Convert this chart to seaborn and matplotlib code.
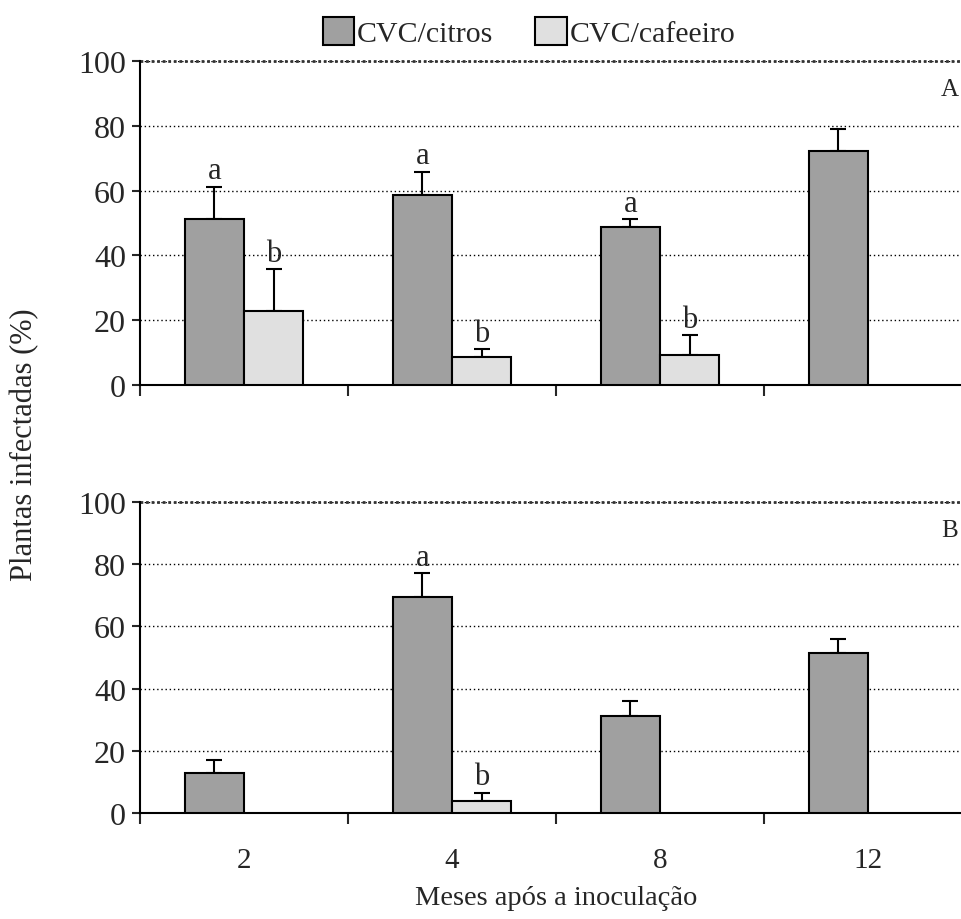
import numpy as np
import pandas as pd
import seaborn as sns
import matplotlib.pyplot as plt
from matplotlib.patches import Patch

# dados
meses = ["2", "4", "8", "12"]
tratamentos = ["CVC/citros", "CVC/cafeeiro"]
cores = ["#a0a0a0", "#e0e0e0"]

# painel A
citros_A = [51.2, 58.6, 48.7, 72.1]
citros_A_err = [10.0, 7.2, 2.5, 6.9]
cafeeiro_A = [22.7, 8.5, 9.3, np.nan]
cafeeiro_A_err = [13.1, 2.6, 6.1, np.nan]
letras_citros_A = ["a", "a", "a", ""]
letras_cafeeiro_A = ["b", "b", "b", ""]

# painel B
citros_B = [12.8, 69.4, 31.3, 51.3]
citros_B_err = [4.4, 7.6, 4.6, 4.5]
cafeeiro_B = [np.nan, 3.9, np.nan, np.nan]
cafeeiro_B_err = [np.nan, 2.7, np.nan, np.nan]
letras_citros_B = ["", "a", "", ""]
letras_cafeeiro_B = ["", "b", "", ""]

sns.set_style("ticks")
plt.rcParams["font.family"] = ["Liberation Serif", "DejaVu Serif"]
plt.rcParams["font.size"] = 21

fig = plt.figure(figsize=(9.62, 9.20), dpi=100)
axA = fig.add_axes([140 / 962, 1 - 386 / 920, 832 / 962, 324 / 920])
axB = fig.add_axes([140 / 962, 1 - 814.3 / 920, 832 / 962, 311.6 / 920])


def painel(ax, citros, citros_err, cafe, cafe_err, let_c, let_f, rotulos):
    tab = pd.DataFrame({
        "mes": meses * 2,
        "trat": [tratamentos[0]] * 4 + [tratamentos[1]] * 4,
        "valor": list(citros) + list(cafe),
        "err": list(citros_err) + list(cafe_err),
        "letra": list(let_c) + list(let_f),
    })
    tab = tab.dropna(subset=["valor"])
    sns.barplot(data=tab, x="mes", y="valor", hue="trat", order=meses,
                hue_order=tratamentos, palette=cores, width=0.57, gap=0,
                errorbar=None, edgecolor="black", linewidth=1.5,
                legend=False, ax=ax, zorder=3)
    # barras de erro (so para cima) e letras
    for trat, cont in zip(tratamentos, ax.containers):
        sub = tab[tab["trat"] == trat]
        for bar in cont:
            xc = bar.get_x() + bar.get_width() / 2
            mes = meses[int(round(xc))]
            linha = sub[sub["mes"] == mes]
            if len(linha) == 0:
                continue
            h = linha["valor"].iloc[0]
            e = linha["err"].iloc[0]
            ax.errorbar(xc, h, yerr=[[0], [e]], color="black", capsize=5.5,
                        elinewidth=1.5, capthick=1.5, fmt="none", zorder=2)
            ax.annotate(linha["letra"].iloc[0], (xc, h + e), xytext=(0, 6),
                        textcoords="offset points", ha="center",
                        va="baseline", fontsize=22)
    ax.set_xlim(-0.5, 3.5)
    ax.set_ylim(0, 100)
    ax.set_yticks([0, 20, 40, 60, 80, 100])
    ax.yaxis.grid(True, color="black", linestyle=(0, (1, 2)), linewidth=1)
    # linha de 100 mais escura, como no original
    ax.axhline(100, color="#333333", linestyle=(0, (1, 1)), linewidth=2,
               clip_on=False, zorder=1)
    ax.set_axisbelow(True)
    ax.set_xticks([0, 1, 2, 3])
    ax.set_xticks([-0.5, 0.5, 1.5, 2.5], minor=True)
    ax.tick_params(axis="x", which="major", length=0, pad=24, labelsize=21)
    ax.tick_params(axis="x", which="minor", length=8, width=1.5, direction="out")
    ax.tick_params(axis="y", length=6, width=1.5, direction="out", pad=4,
                   labelsize=23)
    if rotulos:
        ax.set_xticklabels(meses)
    else:
        ax.set_xticklabels([])
    ax.set_xlabel("")
    ax.set_ylabel("")
    for s in ["top", "right"]:
        ax.spines[s].set_visible(False)
    for s in ["left", "bottom"]:
        ax.spines[s].set_linewidth(1.5)
        ax.spines[s].set_color("black")


painel(axA, citros_A, citros_A_err, cafeeiro_A, cafeeiro_A_err,
       letras_citros_A, letras_cafeeiro_A, False)
painel(axB, citros_B, citros_B_err, cafeeiro_B, cafeeiro_B_err,
       letras_citros_B, letras_cafeeiro_B, True)

fig.text(950 / 962, 1 - 90 / 920, "A", ha="center", va="center", fontsize=18)
fig.text(950 / 962, 1 - 531 / 920, "B", ha="center", va="center", fontsize=18)

axB.set_xlabel("Meses após a inoculação", fontsize=20.5, labelpad=9)
fig.text(25 / 962, 1 - 445 / 920, "Plantas infectadas (%)", rotation=90,
         ha="center", va="center", fontsize=22)

alcas = [Patch(facecolor=c, edgecolor="black", linewidth=1.5) for c in cores]
fig.legend(alcas, tratamentos, loc="center", ncol=2, frameon=False,
           bbox_to_anchor=(529 / 962, 1 - 33 / 920), handlelength=1.05,
           handleheight=1.05, handletextpad=0.1, columnspacing=1.4,
           fontsize=21.5)

plt.savefig("out.png", dpi=100)
